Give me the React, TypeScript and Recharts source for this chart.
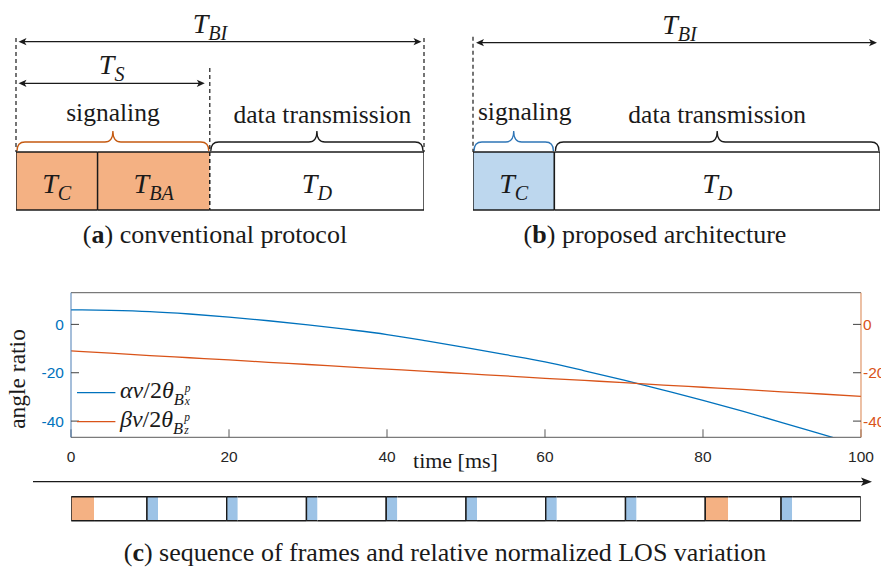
import React from 'react';
import {
  BarChart, Bar, LineChart, Line, XAxis, YAxis, ReferenceArea, ReferenceLine, Legend,
} from 'recharts';

const SERIF = "'Liberation Serif', 'Times New Roman', serif";
const SANS = "'Liberation Sans', Arial, Helvetica, sans-serif";
const INK = '#1a1a1a';

// (a) conventional protocol: T_C, T_BA, T_D
const convSubs = ['C', 'BA', 'D'];
const convDurations = [20, 27.5, 52.5];

// (b) proposed architecture: T_C, T_D
const propSubs = ['C', 'D'];
const propDurations = [20, 80];

// (c) normalized LOS variation over one beacon interval
const timeMs = [0, 5, 10, 15, 20, 25, 30, 35, 40, 45, 50, 55, 60, 65, 70, 75, 80, 85, 90, 95, 100];
const alphaRatio = [6.0, 5.8, 5.3, 4.3, 3.0, 1.5, -0.2, -2.1, -4.2, -6.8, -9.6, -12.5, -15.5, -19.2, -23.1, -27.2, -31.4, -35.9, -40.6, -45.4, -50.2];
const betaRatio = [-11.0, -11.9, -12.9, -13.8, -14.7, -15.7, -16.6, -17.6, -18.5, -19.4, -20.4, -21.3, -22.3, -23.2, -24.1, -25.1, -26.0, -26.9, -27.9, -28.8, -29.8];
const timeTicks = [0, 20, 40, 60, 80, 100];
const ratioTicks = [-40, -20, 0];

// frame sequence under the plot
const frameType = ['conventional', 'proposed', 'proposed', 'proposed', 'proposed', 'proposed', 'proposed', 'proposed', 'conventional', 'proposed'];
const frameLength = [9.6, 10.1, 10.1, 10.1, 10.1, 10.1, 10.1, 10.1, 9.6, 10.1];
const frameSignaling = [2.9, 1.4, 1.4, 1.4, 1.4, 1.4, 1.4, 1.4, 2.9, 1.4];

const ORANGE_FILL = '#F4B183';
const BLUE_FILL = '#BDD7EE';
const BLUE_SLOT = '#9DC3E6';

const sum = (xs: number[]) => xs.reduce((a, b) => a + b, 0);

const MathT = ({ x, y, sub, size = 28 }: any) => (
  <text x={x} y={y} textAnchor="middle" fontFamily={SERIF} fontStyle="italic" fontSize={size} fill={INK}>
    T<tspan fontSize={size * 0.72} dy={size * 0.25}>{sub}</tspan>
  </text>
);

// one piece of a time line: fill, top/bottom border, chosen side borders, label
const Segment = (props: any) => {
  const { x, y, width, height, tone, sub, left, right } = props;
  const side = (kind: string, ex: number) =>
    kind === 'none' ? null : (
      <line x1={ex} x2={ex} y1={y} y2={y + height} stroke={INK} strokeWidth={1.4}
        strokeDasharray={kind === 'dashed' ? '4 3' : undefined} />
    );
  return (
    <g>
      <rect x={x} y={y} width={width} height={height} fill={tone} />
      <line x1={x} x2={x + width} y1={y} y2={y} stroke={INK} strokeWidth={1.4} />
      <line x1={x} x2={x + width} y1={y + height} y2={y + height} stroke={INK} strokeWidth={1.4} />
      {side(left, x)}
      {side(right, x + width)}
      {sub ? <MathT x={x + width / 2} y={y + height / 2 + 12} sub={sub} /> : null}
    </g>
  );
};

// dashed guide going up from the top of the time line
const Riser = (p: any) => {
  const top = Math.min(p.y1, p.y2);
  return <line x1={p.x1} x2={p.x1} y1={top - p.rise} y2={top} stroke={INK} strokeWidth={1.2} strokeDasharray="4 3" />;
};

// double-headed dimension arrow with a T label
const DimArrow = (p: any) => {
  const { x, y, width, rise, sub, labelDx = 0, insetL = 2.5, insetR = 2.5 } = p;
  const ay = y - rise;
  const a = x + insetL;
  const b = x + width - insetR;
  return (
    <g>
      <line x1={a + 4} x2={b - 4} y1={ay} y2={ay} stroke={INK} strokeWidth={1.2} />
      <path d={`M${a},${ay} L${a + 8},${ay - 3.6} L${a + 6},${ay} L${a + 8},${ay + 3.6} Z`} fill={INK} />
      <path d={`M${b},${ay} L${b - 8},${ay - 3.6} L${b - 6},${ay} L${b - 8},${ay + 3.6} Z`} fill={INK} />
      <MathT x={(a + b) / 2 + labelDx} y={ay - 9} sub={sub} />
    </g>
  );
};

// curly brace over a span with its caption
const Brace = (p: any) => {
  const { x, y, width, color, text, lift, textDx = 0 } = p;
  const x0 = x + 1;
  const x1 = x + width - 1;
  const xm = (x0 + x1) / 2;
  const yb = y - 1;
  const yf = y - 10;
  const yt = y - 21;
  const r = 8;
  const d = `M${x0},${yb} Q${x0},${yf} ${x0 + r},${yf} L${xm - r},${yf} Q${xm},${yf} ${xm},${yt} `
    + `Q${xm},${yf} ${xm + r},${yf} L${x1 - r},${yf} Q${x1},${yf} ${x1},${yb}`;
  return (
    <g>
      <path d={d} fill="none" stroke={color} strokeWidth={1.3} />
      <text x={xm + textDx} y={y - lift} textAnchor="middle" fontFamily={SERIF} fontSize={25.5} fill={INK}>{text}</text>
    </g>
  );
};

const Timeline = ({ subs, durations, fills, edges, left, marginLeft, marginRight, children }: any) => {
  const row: Record<string, any> = { row: 'interval' };
  durations.forEach((d: number, i: number) => { row['p' + i] = d; });
  return (
    <div style={{ position: 'absolute', left, top: 0 }}>
      <BarChart width={440} height={212} layout="vertical" data={[row]} barCategoryGap={0}
        margin={{ top: 152, bottom: 2, left: marginLeft, right: marginRight }}>
        <XAxis type="number" hide domain={[0, sum(durations)]} allowDataOverflow />
        <YAxis type="category" dataKey="row" hide />
        {durations.map((_: number, i: number) => (
          <Bar key={i} dataKey={'p' + i} stackId="t" fill={fills[i]} isAnimationActive={false}
            shape={(s: any) => <Segment {...s} tone={fills[i]} sub={subs[i]} left={edges[i][0]} right={edges[i][1]} />} />
        ))}
        {children}
      </BarChart>
    </div>
  );
};

const legendMath: Record<string, { greek: string; axis: string }> = {
  alpha: { greek: 'α', axis: 'x' },
  beta: { greek: 'β', axis: 'z' },
};

const LosLegend = (props: any) => {
  const items = props.payload || [];
  return (
    <svg width={150} height={50} style={{ display: 'block', overflow: 'visible' }}>
      {items.map((it: any, i: number) => {
        const key = it.dataKey ?? it.payload?.dataKey;
        const m = legendMath[key] || legendMath.alpha;
        const cy = 14.7 + 29 * i;
        return (
          <g key={i}>
            <line x1={0} x2={38.4} y1={cy} y2={cy} stroke={it.color} strokeWidth={1.3} />
            <text x={43} y={cy + 5} fontFamily={SERIF} fontSize={24} fill={INK}>
              <tspan fontStyle="italic">{m.greek}v</tspan>/2<tspan fontStyle="italic">θ</tspan>
              <tspan fontStyle="italic" fontSize={16.5} dy={7.5}>B</tspan>
              <tspan fontStyle="italic" fontSize={11.5} dx={1} dy={-13}>p</tspan>
            </text>
            <text x={43} y={cy + 5} fontFamily={SERIF} fontSize={24} fill="none">
              <tspan fontStyle="italic">{m.greek}v</tspan>/2<tspan fontStyle="italic">θ</tspan>
              <tspan fontStyle="italic" fontSize={16.5} dy={7.5}>B</tspan>
              <tspan fontStyle="italic" fontSize={11.5} dx={1} fill={INK}>{m.axis}</tspan>
            </text>
          </g>
        );
      })}
    </svg>
  );
};

const TimeLabel = (p: any) => {
  const vb = p.viewBox;
  return (
    <text x={vb.x + vb.width / 2 - 10.5} y={vb.y + 30.7} textAnchor="middle" fontFamily={SERIF} fontSize={22} fill={INK}>
      time [ms]
    </text>
  );
};

const AngleLabel = (p: any) => {
  const vb = p.viewBox;
  const cx = vb.x + 25;
  const cy = vb.y + vb.height / 2 + 14;
  return (
    <text x={cx} y={cy} transform={`rotate(-90 ${cx} ${cy})`} textAnchor="middle" fontFamily={SERIF} fontSize={23.5} fill={INK}>
      angle ratio
    </text>
  );
};

export default function App() {
  const convTotal = sum(convDurations);
  const convSignal = convDurations[0] + convDurations[1];
  const propTotal = sum(propDurations);

  const losData = timeMs.map((t, i) => ({ t, alpha: alphaRatio[i], beta: betaRatio[i] }));

  const frameRow: Record<string, any> = { row: 'frames' };
  frameLength.forEach((len, i) => {
    frameRow['s' + i] = frameSignaling[i];
    frameRow['d' + i] = len - frameSignaling[i];
  });

  const tickFont = { fontSize: 15.5, fontFamily: SANS };

  return (
    <div style={{ position: 'absolute', left: 0, top: 0, width: 881, height: 568, overflow: 'hidden', background: '#fff' }}>
      <svg width={881} height={568} style={{ position: 'absolute', left: 0, top: 0 }}>
        <text x={215} y={243} textAnchor="middle" fontFamily={SERIF} fontSize={26} fill={INK}>
          (<tspan fontWeight="bold">a</tspan>) conventional protocol
        </text>
        <text x={655} y={243} textAnchor="middle" fontFamily={SERIF} fontSize={26} fill={INK}>
          (<tspan fontWeight="bold">b</tspan>) proposed architecture
        </text>
        <text x={445} y={560.5} textAnchor="middle" fontFamily={SERIF} fontSize={26} fill={INK}>
          (<tspan fontWeight="bold">c</tspan>) sequence of frames and relative normalized LOS variation
        </text>
        <line x1={33} x2={866} y1={481.7} y2={481.7} stroke={INK} strokeWidth={1.3} />
        <path d="M872,481.7 L861,477.4 L863.5,481.7 L861,486 Z" fill={INK} />
      </svg>

      <Timeline subs={convSubs} durations={convDurations} fills={[ORANGE_FILL, ORANGE_FILL, '#ffffff']}
        edges={[['solid', 'solid'], ['solid', 'dashed'], ['dashed', 'solid']]} left={0} marginLeft={16} marginRight={16}>
        <ReferenceLine x={0} ifOverflow="visible" shape={(p: any) => <Riser {...p} rise={114} />} />
        <ReferenceLine x={convTotal} ifOverflow="visible" shape={(p: any) => <Riser {...p} rise={114} />} />
        <ReferenceLine x={convSignal} ifOverflow="visible" shape={(p: any) => <Riser {...p} rise={84} />} />
        <ReferenceArea x1={0} x2={convTotal} ifOverflow="visible"
          shape={(p: any) => <DimArrow {...p} rise={110.3} sub="BI" labelDx={-10} />} />
        <ReferenceArea x1={0} x2={convSignal} ifOverflow="visible"
          shape={(p: any) => <DimArrow {...p} rise={68.7} sub="S" insetR={5} />} />
        <ReferenceArea x1={0} x2={convSignal} ifOverflow="visible"
          shape={(p: any) => <Brace {...p} color="#C55A11" text="signaling" lift={31.3} />} />
        <ReferenceArea x1={convSignal} x2={convTotal} ifOverflow="visible"
          shape={(p: any) => <Brace {...p} color={INK} text="data transmission" lift={28.7} textDx={5.5} />} />
      </Timeline>

      <Timeline subs={propSubs} durations={propDurations} fills={[BLUE_FILL, '#ffffff']}
        edges={[['solid', 'solid'], ['solid', 'solid']]} left={457} marginLeft={16} marginRight={17}>
        <ReferenceLine x={0} ifOverflow="visible" shape={(p: any) => <Riser {...p} rise={115.3} />} />
        <ReferenceArea x1={0} x2={propTotal} ifOverflow="visible"
          shape={(p: any) => <DimArrow {...p} rise={109.3} sub="BI" labelDx={3} insetL={3} insetR={3} />} />
        <ReferenceArea x1={0} x2={propDurations[0]} ifOverflow="visible"
          shape={(p: any) => <Brace {...p} color="#2E75B6" text="signaling" lift={32} textDx={11} />} />
        <ReferenceArea x1={propDurations[0]} x2={propTotal} ifOverflow="visible"
          shape={(p: any) => <Brace {...p} color={INK} text="data transmission" lift={28.7} />} />
      </Timeline>

      <div style={{ position: 'absolute', left: 0, top: 280 }}>
        <LineChart width={920} height={193.3} data={losData} margin={{ top: 11.7, right: 0, left: 0, bottom: 0 }}>
          <XAxis dataKey="t" type="number" domain={[0, 100]} ticks={timeTicks} interval={0}
            height={36} tickSize={-8} tickMargin={21.7} stroke="#595959"
            tick={{ ...tickFont, fill: '#262626' }} label={(p: any) => <TimeLabel {...p} />} />
          <XAxis xAxisId="top" orientation="top" dataKey="t" type="number" domain={[0, 100]} ticks={timeTicks}
            interval={0} height={1} tickSize={-8} tick={false} stroke="#595959" />
          <YAxis yAxisId="left" domain={[-46.7, 13.1]} allowDataOverflow ticks={ratioTicks} interval={0}
            width={71} tickSize={-8} tickMargin={15} axisLine={{ stroke: '#4a7db5' }} tickLine={{ stroke: '#404040' }}
            tick={{ ...tickFont, fill: '#0072BD' }} label={(p: any) => <AngleLabel {...p} />} />
          <YAxis yAxisId="right" orientation="right" domain={[-46.7, 13.1]} allowDataOverflow ticks={ratioTicks}
            interval={0} width={59} tickSize={-8} tickMargin={10} axisLine={{ stroke: '#D9824A' }}
            tickLine={{ stroke: '#404040' }} tick={{ ...tickFont, fill: '#D95319' }} />
          <Line yAxisId="left" dataKey="alpha" type="monotone" stroke="#0072BD" strokeWidth={1.3} dot={false}
            isAnimationActive={false} />
          <Line yAxisId="right" dataKey="beta" type="monotone" stroke="#D95319" strokeWidth={1.3} dot={false}
            isAnimationActive={false} />
          <Legend layout="horizontal" verticalAlign="middle" align="center" content={(p: any) => <LosLegend {...p} />}
            wrapperStyle={{ left: 77.3, top: 98, bottom: 'auto', right: 'auto', width: 'auto', height: 'auto' }} />
        </LineChart>
      </div>

      <div style={{ position: 'absolute', left: 0, top: 490 }}>
        <BarChart width={881} height={32.7} layout="vertical" data={[frameRow]} barCategoryGap={0}
          margin={{ top: 6.7, bottom: 2, left: 71, right: 20 }}>
          <XAxis type="number" hide domain={[0, sum(frameLength)]} allowDataOverflow />
          <YAxis type="category" dataKey="row" hide />
          {frameLength.flatMap((_, i) => {
            const slot = frameType[i] === 'conventional' ? ORANGE_FILL : BLUE_SLOT;
            return [
              <Bar key={'s' + i} dataKey={'s' + i} stackId="f" fill={slot} isAnimationActive={false}
                shape={(s: any) => <Segment {...s} tone={slot} left="solid" right="none" />} />,
              <Bar key={'d' + i} dataKey={'d' + i} stackId="f" fill="#ffffff" isAnimationActive={false}
                shape={(s: any) => <Segment {...s} tone="#ffffff" left="none" right="solid" />} />,
            ];
          })}
        </BarChart>
      </div>
    </div>
  );
}
